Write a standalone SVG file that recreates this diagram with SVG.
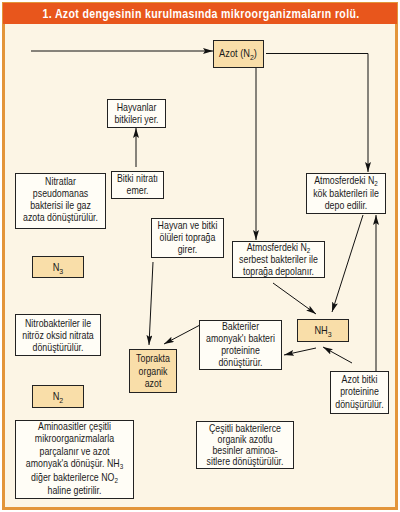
<svg xmlns="http://www.w3.org/2000/svg" width="400" height="512" viewBox="0 0 400 512">
<defs>
<marker id="ah" viewBox="0 0 10 6" refX="10" refY="3" markerWidth="10" markerHeight="6" markerUnits="userSpaceOnUse" orient="auto">
<path d="M0,0 L10,3 L0,6 L2,3 Z" fill="#111"/>
</marker>
<style>
text{font-family:"Liberation Sans",Arial,sans-serif;font-size:10.5px;fill:#1a1a1a;text-anchor:middle}
.box{fill:#FFFDF6;stroke:#222;stroke-width:1}
.tan{fill:#F9DEA9;stroke:#222;stroke-width:1}
.c line,.c path{stroke:#111;stroke-width:1;fill:none;marker-end:url(#ah)}
.t{font-weight:bold;fill:#fff;font-size:12px}
.s{font-size:7.5px}
</style>
</defs>
<rect x="0" y="0" width="400" height="512" fill="#fff"/>
<rect x="3.5" y="3.5" width="393" height="505" fill="#FCF5E5" stroke="#E3953A" stroke-width="3"/>
<rect x="3" y="3" width="394" height="21" fill="#E8561C"/>
<g transform="translate(201,0) scale(0.88,1)"><text class="t" x="0" y="18.5" letter-spacing="0.4">1. Azot dengesinin kurulmasında mikroorganizmaların rolü.</text></g>

<g class="c" id="connectors">
<line x1="31" y1="51" x2="213" y2="51"/>
<path d="M266,53.5 H368 V172"/>
<line x1="256" y1="68" x2="256" y2="240"/>
<line x1="136" y1="167" x2="136" y2="128"/>
<line x1="153" y1="262" x2="149" y2="345"/>
<line x1="200" y1="325" x2="164" y2="344"/>
<line x1="273" y1="283" x2="316" y2="314"/>
<line x1="363" y1="215" x2="332" y2="312"/>
<line x1="316" y1="348" x2="284" y2="355"/>
<line x1="352" y1="363" x2="323" y2="347"/>
<line x1="376" y1="371" x2="376" y2="215"/>
</g>

<g id="azot"><rect class="tan" x="213.5" y="40.5" width="50" height="27"/>
<g transform="translate(238,0) scale(0.88,1)"><text x="0" y="57" font-size="11.5">Azot (N<tspan font-size="8" dy="3">2</tspan><tspan dy="-3">)</tspan></text></g></g>

<g id="kok"><rect class="box" x="306.5" y="173.5" width="79" height="40"/>
<g transform="translate(346,0) scale(0.84,1)">
<text x="0" y="184">Atmosferdeki N<tspan class="s" dy="2">2</tspan></text>
<text x="0" y="197">kök bakterileri ile</text>
<text x="0" y="209">depo edilir.</text></g></g>

<g id="serbest"><rect class="box" x="232.5" y="241.5" width="92" height="36"/>
<g transform="translate(278.5,0) scale(0.84,1)">
<text x="0" y="251">Atmosferdeki N<tspan class="s" dy="2">2</tspan></text>
<text x="0" y="263">serbest bakteriler ile</text>
<text x="0" y="275">toprağa depolanır.</text></g></g>

<g id="hayvanlar"><rect class="box" x="107.5" y="99.5" width="58" height="28"/>
<g transform="translate(136.5,0) scale(0.84,1)">
<text x="0" y="111">Hayvanlar</text>
<text x="0" y="123">bitkileri yer.</text></g></g>

<g id="bitki"><rect class="box" x="111.5" y="171.5" width="52" height="27"/>
<g transform="translate(137.5,0) scale(0.84,1)">
<text x="0" y="182">Bitki nitratı</text>
<text x="0" y="194">emer.</text></g></g>

<g id="nitratlar"><rect class="box" x="15.5" y="173.5" width="90" height="55"/>
<g transform="translate(60.5,0) scale(0.84,1)">
<text x="0" y="185">Nitratlar</text>
<text x="0" y="197">pseudomanas</text>
<text x="0" y="209">bakterisi ile gaz</text>
<text x="0" y="221">azota dönüştürülür.</text></g></g>

<g id="n3"><rect class="tan" x="32.5" y="256.5" width="51" height="21"/>
<g transform="translate(58,0) scale(0.88,1)"><text x="0" y="271" font-size="11.5">N<tspan font-size="8" dy="3">3</tspan></text></g></g>

<g id="nitrobakteriler"><rect class="box" x="15.5" y="314.5" width="85" height="41"/>
<g transform="translate(58,0) scale(0.84,1)">
<text x="0" y="327">Nitrobakteriler ile</text>
<text x="0" y="339">nitröz oksid nitrata</text>
<text x="0" y="351">dönüştürülür.</text></g></g>

<g id="olu"><rect class="box" x="151.5" y="218.5" width="72" height="39"/>
<g transform="translate(187.5,0) scale(0.84,1)">
<text x="0" y="229">Hayvan ve bitki</text>
<text x="0" y="241">ölüleri toprağa</text>
<text x="0" y="253">girer.</text></g></g>

<g id="toprakta"><rect class="tan" x="129.5" y="349.5" width="47" height="43"/>
<g transform="translate(153,0) scale(0.84,1)">
<text x="0" y="362">Toprakta</text>
<text x="0" y="375">organik</text>
<text x="0" y="387">azot</text></g></g>

<g id="bakteriler"><rect class="box" x="199.5" y="320.5" width="82" height="49"/>
<g transform="translate(240.5,0) scale(0.84,1)">
<text x="0" y="330">Bakteriler</text>
<text x="0" y="342">amonyak'ı bakteri</text>
<text x="0" y="354">proteinine</text>
<text x="0" y="366">dönüştürür.</text></g></g>

<g id="nh3"><rect class="tan" x="297.5" y="319.5" width="51" height="22"/>
<g transform="translate(323,0) scale(0.88,1)"><text x="0" y="334" font-size="11.5">NH<tspan font-size="8" dy="3">3</tspan></text></g></g>

<g id="bitkiprotein"><rect class="box" x="330.5" y="371.5" width="58" height="42"/>
<g transform="translate(359.5,0) scale(0.84,1)">
<text x="0" y="383">Azot bitki</text>
<text x="0" y="395">proteinine</text>
<text x="0" y="408">dönüşürülür.</text></g></g>

<g id="cesitli"><rect class="box" x="196.5" y="421.5" width="97" height="47"/>
<g transform="translate(245,0) scale(0.84,1)">
<text x="0" y="432">Çeşitli bakterilerce</text>
<text x="0" y="443">organik azotlu</text>
<text x="0" y="454">besinler aminoa-</text>
<text x="0" y="465">sitlere dönüştürülür.</text></g></g>

<g id="n2"><rect class="tan" x="32.5" y="385.5" width="51" height="22"/>
<g transform="translate(58,0) scale(0.88,1)"><text x="0" y="400" font-size="11.5">N<tspan font-size="8" dy="3">2</tspan></text></g></g>

<g id="aminoasit"><rect class="box" x="15.5" y="420.5" width="118" height="78"/>
<g transform="translate(74.5,0) scale(0.84,1)">
<text x="0" y="430">Aminoasitler çeşitli</text>
<text x="0" y="442">mikroorganizmalarla</text>
<text x="0" y="455">parçalanır ve azot</text>
<text x="0" y="467">amonyak'a dönüşür. NH<tspan class="s" dy="2">3</tspan></text>
<text x="0" y="481">diğer bakterilerce NO<tspan class="s" dy="2">2</tspan></text>
<text x="0" y="494">haline getirilir.</text></g></g>
</svg>
